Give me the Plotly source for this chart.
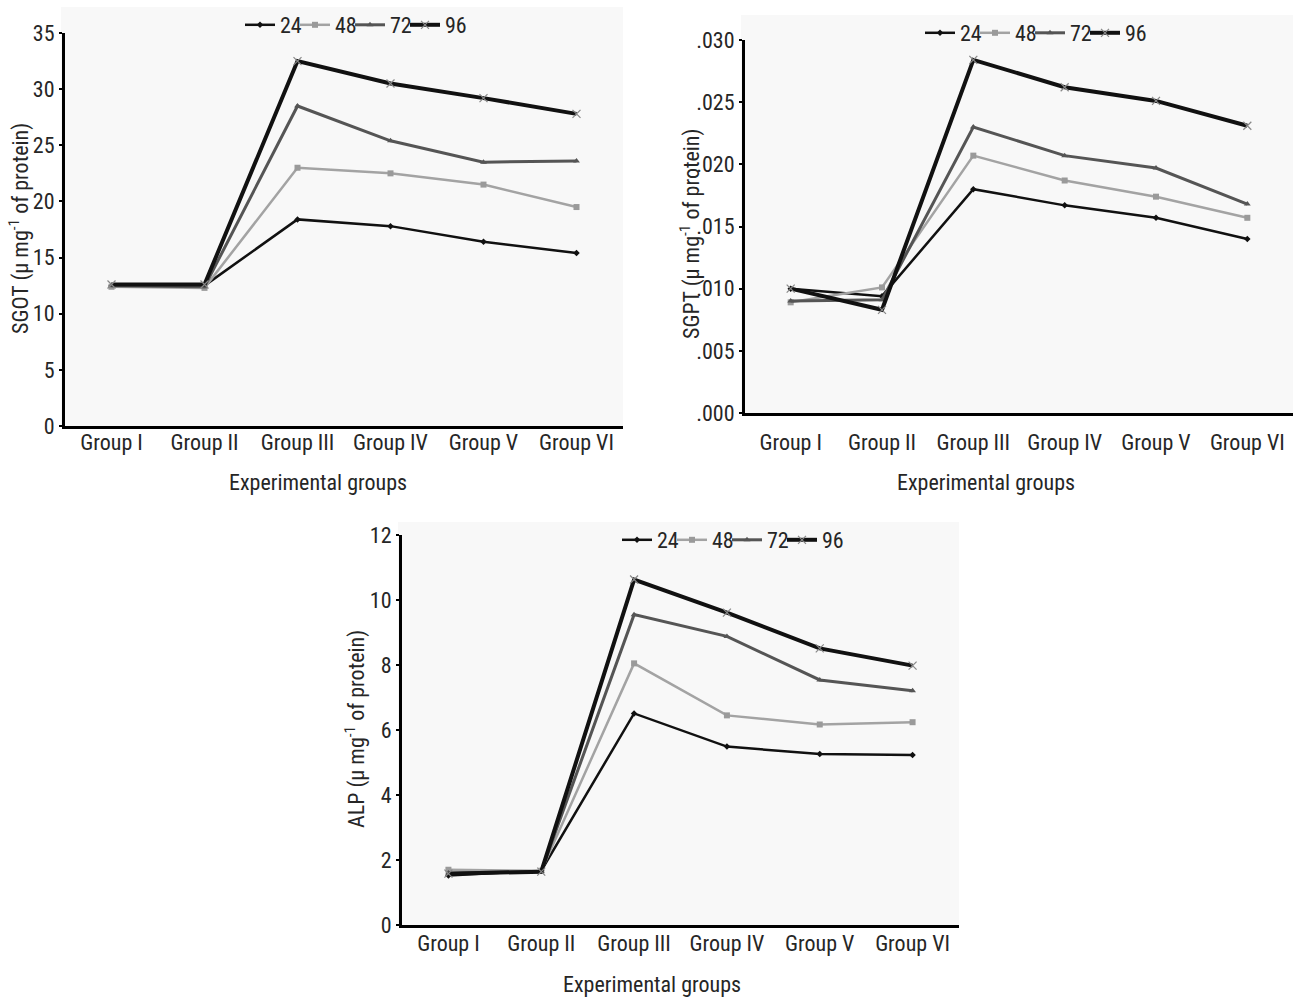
import plotly.graph_objects as go

W, H = 1293, 997

groups = ["Group I", "Group II", "Group III", "Group IV", "Group V", "Group VI"]
series_names = ["24", "48", "72", "96"]

sgot = {
    "24": [12.5, 12.5, 18.4, 17.8, 16.4, 15.4],
    "48": [12.4, 12.3, 23.0, 22.5, 21.5, 19.5],
    "72": [12.5, 12.4, 28.5, 25.4, 23.5, 23.6],
    "96": [12.6, 12.6, 32.5, 30.5, 29.2, 27.8],
}
sgpt = {
    "24": [0.0100, 0.0094, 0.0180, 0.0167, 0.0157, 0.0140],
    "48": [0.0089, 0.0101, 0.0207, 0.0187, 0.0174, 0.0157],
    "72": [0.0090, 0.0091, 0.0230, 0.0207, 0.0197, 0.0168],
    "96": [0.0100, 0.0083, 0.0284, 0.0262, 0.0251, 0.0231],
}
alp = {
    "24": [1.52, 1.67, 6.51, 5.49, 5.26, 5.23],
    "48": [1.70, 1.67, 8.05, 6.45, 6.17, 6.24],
    "72": [1.60, 1.65, 9.55, 8.88, 7.54, 7.21],
    "96": [1.58, 1.64, 10.63, 9.61, 8.51, 7.98],
}

sgot_ticks = [0, 5, 10, 15, 20, 25, 30, 35]
sgot_ticktext = ["0", "5", "10", "15", "20", "25", "30", "35"]
sgpt_ticks = [0.0, 0.005, 0.010, 0.015, 0.020, 0.025, 0.030]
sgpt_ticktext = [".000", ".005", ".010", ".015", ".020", ".025", ".030"]
alp_ticks = [0, 2, 4, 6, 8, 10, 12]
alp_ticktext = ["0", "2", "4", "6", "8", "10", "12"]

FONT = "Liberation Sans Narrow, Arial Narrow, Roboto Condensed, Liberation Sans, sans-serif"
TXT = "#262626"

styles = {
    "24": dict(line=dict(color="#111111", width=2.5),
               marker=dict(symbol="diamond", size=5, color="#111111"), lw=10),
    "48": dict(line=dict(color="#a3a3a3", width=2.5),
               marker=dict(symbol="square", size=6, color="#9a9a9a"), lw=10),
    "72": dict(line=dict(color="#555555", width=3),
               marker=dict(symbol="triangle-up", size=6, color="#555555"), lw=10),
    "96": dict(line=dict(color="#111111", width=4),
               marker=dict(symbol="x-thin", size=8, color="#888888",
                           line=dict(color="#888888", width=1.2)), lw=24),
}

fig = go.Figure()

panels = [
    (sgot, "x", "y", "legend"),
    (sgpt, "x2", "y2", "legend2"),
    (alp, "x3", "y3", "legend3"),
]
for data, xa, ya, lg in panels:
    for name in series_names:
        st = styles[name]
        fig.add_trace(go.Scatter(
            x=groups, y=data[name], name=name, mode="lines+markers",
            xaxis=xa, yaxis=ya, legend=lg, legendwidth=st["lw"],
            line=st["line"], marker=st["marker"],
        ))

def px_x(p):
    return p / W

def px_y(p):
    return 1 - p / H

xaxis_common = dict(
    type="category", range=[-0.5, 5.5], showline=True, linecolor="#000000",
    linewidth=3, ticks="", showgrid=False, zeroline=False,
    tickfont=dict(family=FONT, size=22, color=TXT), fixedrange=True,
)
yaxis_common = dict(
    showline=True, linecolor="#000000", linewidth=3, ticks="outside",
    ticklen=3, tickwidth=1.5, tickcolor="#000000", showgrid=False,
    zeroline=False, tickfont=dict(family=FONT, size=22, color=TXT),
    tickmode="array",
)

fig.update_layout(
    width=W, height=H,
    margin=dict(l=0, r=0, t=0, b=0, autoexpand=False),
    paper_bgcolor="white", plot_bgcolor="rgba(0,0,0,0)",
    font=dict(family=FONT, color=TXT),
    xaxis=dict(xaxis_common, domain=[px_x(65), px_x(623)], anchor="y",
               ticklabelstandoff=-5),
    yaxis=dict(yaxis_common, domain=[px_y(426), px_y(33)], range=[0, 35],
               tickvals=sgot_ticks, ticktext=sgot_ticktext, anchor="x"),
    xaxis2=dict(xaxis_common, domain=[px_x(745), 1.0], anchor="y2",
                ticklabelstandoff=8),
    yaxis2=dict(yaxis_common, domain=[px_y(413), px_y(40)], range=[0, 0.030],
                tickvals=sgpt_ticks, ticktext=sgpt_ticktext, anchor="x2"),
    xaxis3=dict(xaxis_common, domain=[px_x(402), px_x(959)], anchor="y3",
                ticklabelstandoff=-3),
    yaxis3=dict(yaxis_common, domain=[px_y(925), px_y(535)], range=[0, 12],
                tickvals=alp_ticks, ticktext=alp_ticktext, anchor="x3"),
    showlegend=True,
)

leg_common = dict(orientation="h", xanchor="center", yanchor="middle",
                  bgcolor="rgba(0,0,0,0)", font=dict(family=FONT, size=22, color=TXT),
                  itemwidth=30, tracegroupgap=0, traceorder="normal")
fig.update_layout(
    legend=dict(leg_common, x=px_x(357), y=px_y(25)),
    legend2=dict(leg_common, x=px_x(1037), y=px_y(33)),
    legend3=dict(leg_common, x=px_x(734), y=px_y(540)),
)

# light panel backgrounds
for x0, y0, x1, y1 in [(61, 7, 623, 426), (741, 15, 1293, 413), (398, 522, 959, 925)]:
    fig.add_shape(type="rect", xref="paper", yref="paper",
                  x0=px_x(x0), x1=px_x(x1), y0=px_y(y1), y1=px_y(y0),
                  fillcolor="#f8f8f8", line=dict(width=0), layer="below")

ylabel = "{} (μ mg<sup>-1</sup> of protein)"
annots = [
    (ylabel.format("SGOT"), 20, 229, -90),
    (ylabel.format("SGPT"), 690, 234, -90),
    (ylabel.format("ALP"), 355, 729, -90),
    ("Experimental groups", 318, 482, 0),
    ("Experimental groups", 986, 482, 0),
    ("Experimental groups", 652, 984, 0),
]
for text, ax, ay, ang in annots:
    fig.add_annotation(text=text, xref="paper", yref="paper", x=px_x(ax), y=px_y(ay),
                       xanchor="center", yanchor="middle", showarrow=False,
                       textangle=ang, font=dict(family=FONT, size=22, color=TXT))

fig.write_html("out.html")
